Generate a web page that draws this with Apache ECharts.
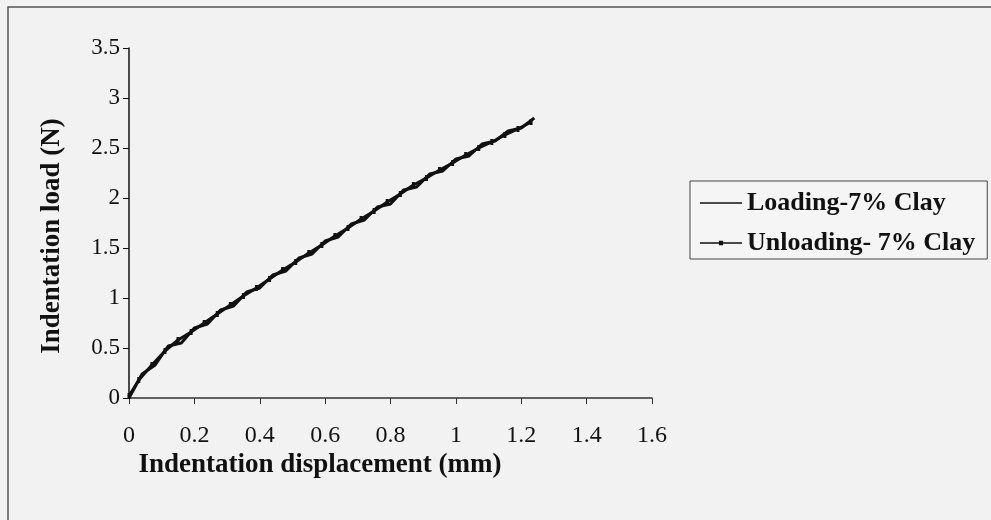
<!DOCTYPE html>
<html>
<head>
<meta charset="utf-8">
<script src="https://cdn.jsdelivr.net/npm/echarts@6/dist/echarts.min.js"></script>
<style>
  html, body { margin: 0; padding: 0; background: #f2f2f2; }
  #chart { width: 991px; height: 520px; }
</style>
</head>
<body>
<div id="chart"></div>
<script>
// values
const loadingDisp = [0.00, 0.04, 0.08, 0.12, 0.16, 0.20, 0.24, 0.28, 0.32, 0.36, 0.40, 0.44, 0.48, 0.52, 0.56, 0.60,
  0.64, 0.68, 0.72, 0.76, 0.80, 0.84, 0.88, 0.92, 0.96, 1.00, 1.04, 1.08, 1.12, 1.16, 1.20, 1.24];
const loadingForce = [0.00, 0.24, 0.33, 0.52, 0.55, 0.70, 0.74, 0.88, 0.92, 1.06, 1.10, 1.23, 1.27, 1.40, 1.44, 1.57,
  1.61, 1.74, 1.78, 1.91, 1.94, 2.08, 2.11, 2.24, 2.27, 2.39, 2.42, 2.54, 2.57, 2.67, 2.70, 2.80];

const unloadingDisp = [1.23, 1.19, 1.15, 1.11, 1.07, 1.03, 0.99, 0.95, 0.91, 0.87, 0.83, 0.79, 0.75, 0.71, 0.67, 0.63,
  0.59, 0.55, 0.51, 0.47, 0.43, 0.39, 0.35, 0.31, 0.27, 0.23, 0.19, 0.15, 0.11, 0.07, 0.03, 0.00];
const unloadingForce = [2.76, 2.69, 2.63, 2.56, 2.50, 2.43, 2.35, 2.28, 2.20, 2.13, 2.04, 1.96, 1.87, 1.79, 1.70, 1.62,
  1.53, 1.45, 1.36, 1.28, 1.19, 1.10, 1.02, 0.93, 0.84, 0.75, 0.66, 0.58, 0.47, 0.33, 0.18, 0.02];

const seriesNames = ['Loading-7% Clay', 'Unloading- 7% Clay'];
const xTitle = 'Indentation displacement (mm)';
const yTitle = 'Indentation load (N)';

const pair = (xs, ys) => xs.map((x, i) => [x, ys[i]]);

const chart = echarts.init(document.getElementById('chart'));
const serif = '"Liberation Serif", "Times New Roman", serif';

const option = {
  backgroundColor: '#f2f2f2',
  animation: false,
  grid: { left: 129, right: 339, top: 48, bottom: 122 },
  xAxis: {
    type: 'value',
    min: 0, max: 1.6, interval: 0.2,
    axisLine: { show: true, lineStyle: { color: '#333', width: 1.5 } },
    axisTick: { show: true, length: 6, lineStyle: { color: '#333' } },
    axisLabel: { color: '#111', fontFamily: serif, fontSize: 24, margin: 26 },
    splitLine: { show: false }
  },
  yAxis: {
    type: 'value',
    min: 0, max: 3.5, interval: 0.5,
    axisLine: { show: true, lineStyle: { color: '#111', width: 1.5 } },
    axisTick: { show: true, length: 6, lineStyle: { color: '#111' } },
    axisLabel: { color: '#111', fontFamily: serif, fontSize: 23, margin: 9 },
    splitLine: { show: false }
  },
  legend: {
    orient: 'vertical',
    left: 690, top: 181,
    padding: [9, 12, 3, 10],
    itemGap: 14,
    itemWidth: 42, itemHeight: 12,
    borderColor: '#444', borderWidth: 1,
    backgroundColor: '#f5f5f5',
    borderRadius: 0,
    textStyle: { fontFamily: serif, fontWeight: 'bold', fontSize: 26, color: '#111' },
    data: [
      { name: seriesNames[0], icon: 'path://M0,5 L40,5 L40,6.5 L0,6.5 Z' },
      { name: seriesNames[1], icon: 'path://M0,5 L40,5 L40,6.5 L0,6.5 Z M18,3.5 L22,3.5 L22,8 L18,8 Z' }
    ]
  },
  graphic: [
    { type: 'rect', shape: { x: 8, y: 7, width: 1000, height: 530 }, style: { fill: 'none', stroke: '#555', lineWidth: 1.5 }, silent: true },
    { type: 'text', x: 320, y: 465, style: { text: xTitle, fontFamily: serif, fontWeight: 'bold', fontSize: 27, fill: '#111', textAlign: 'center', textVerticalAlign: 'middle' } },
    { type: 'text', x: 52, y: 236, rotation: Math.PI / 2, style: { text: yTitle, fontFamily: serif, fontWeight: 'bold', fontSize: 27, fill: '#111', textAlign: 'center', textVerticalAlign: 'middle' } }
  ],
  series: [
    {
      name: seriesNames[0],
      type: 'line',
      data: pair(loadingDisp, loadingForce),
      showSymbol: false,
      symbol: 'none',
      lineStyle: { color: '#111', width: 3 },
      itemStyle: { color: '#111' }
    },
    {
      name: seriesNames[1],
      type: 'line',
      data: pair(unloadingDisp, unloadingForce),
      symbol: 'rect',
      symbolSize: [3, 6],
      lineStyle: { color: '#111', width: 3 },
      itemStyle: { color: '#111' }
    }
  ]
};

chart.setOption(option);
window.addEventListener('resize', () => chart.resize());
</script>
</body>
</html>
